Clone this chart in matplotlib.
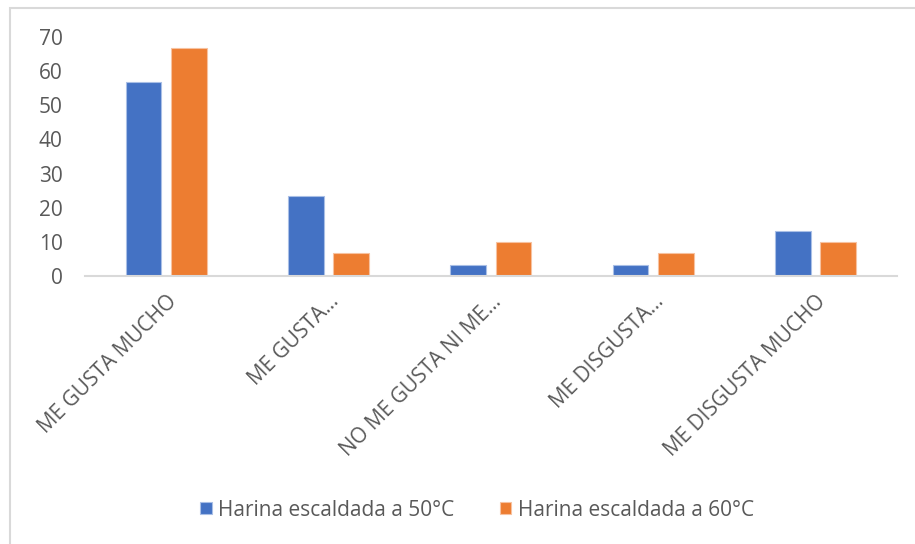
import numpy as np
import matplotlib.pyplot as plt
from matplotlib.patches import Rectangle
from matplotlib.transforms import ScaledTranslation

categorias = ['ME GUSTA MUCHO', 'ME GUSTA...', 'NO ME GUSTA NI ME...',
              'ME DISGUSTA...', 'ME DISGUSTA MUCHO']
harina_50 = [56.7, 23.3, 3.3, 3.3, 13.3]
harina_60 = [66.7, 6.7, 10.0, 6.7, 10.0]
series = ['Harina escaldada a 50°C', 'Harina escaldada a 60°C']
yticks = [0, 10, 20, 30, 40, 50, 60, 70]

plt.rcParams['font.family'] = ['Open Sans', 'DejaVu Sans']
gris = '#595959'

fig = plt.figure(figsize=(9.15, 5.44), dpi=100)
ax = fig.add_axes([0.0929, 0.4926, 0.8871, 0.4394])

x = np.arange(len(categorias))
w = 0.22
ax.bar(x - 0.14, harina_50, w, color='#4472C4', edgecolor='#A9BFE6', linewidth=0.8, label=series[0])
ax.bar(x + 0.14, harina_60, w, color='#ED7D31', edgecolor='#F7C2A0', linewidth=0.8, label=series[1])

ax.set_xlim(-0.5, len(categorias) - 0.5)
ax.set_ylim(0, 70)
ax.set_yticks(yticks)
ax.set_xticks(x)
ax.set_xticklabels(categorias, rotation=45, ha='right', rotation_mode='anchor')
desplaza = ScaledTranslation(4 / 100, -3 / 100, fig.dpi_scale_trans)
for lbl in ax.get_xticklabels():
    lbl.set_transform(lbl.get_transform() + desplaza)

for s in ['top', 'right', 'left']:
    ax.spines[s].set_visible(False)
ax.spines['bottom'].set_color('#D9D9D9')
ax.spines['bottom'].set_linewidth(1.5)
ax.tick_params(axis='both', length=0, colors=gris, labelsize=15)
ax.tick_params(axis='y', pad=16)
ax.tick_params(axis='x', pad=11)

ax.legend(loc='center', bbox_to_anchor=(477 / 915, 1 - 510 / 544), bbox_transform=fig.transFigure,
          ncol=2, frameon=False, fontsize=15, labelcolor=gris, handlelength=0.55,
          handleheight=0.55, handletextpad=0.3, columnspacing=2.2)

# marco del grafico
fig.patches.append(Rectangle((10 / 915, -0.1), 1.2, 1.1 - 8 / 544, transform=fig.transFigure,
                             fill=False, edgecolor='#D9D9D9', linewidth=1.5, clip_on=False))

fig.savefig('out.png', dpi=100)
